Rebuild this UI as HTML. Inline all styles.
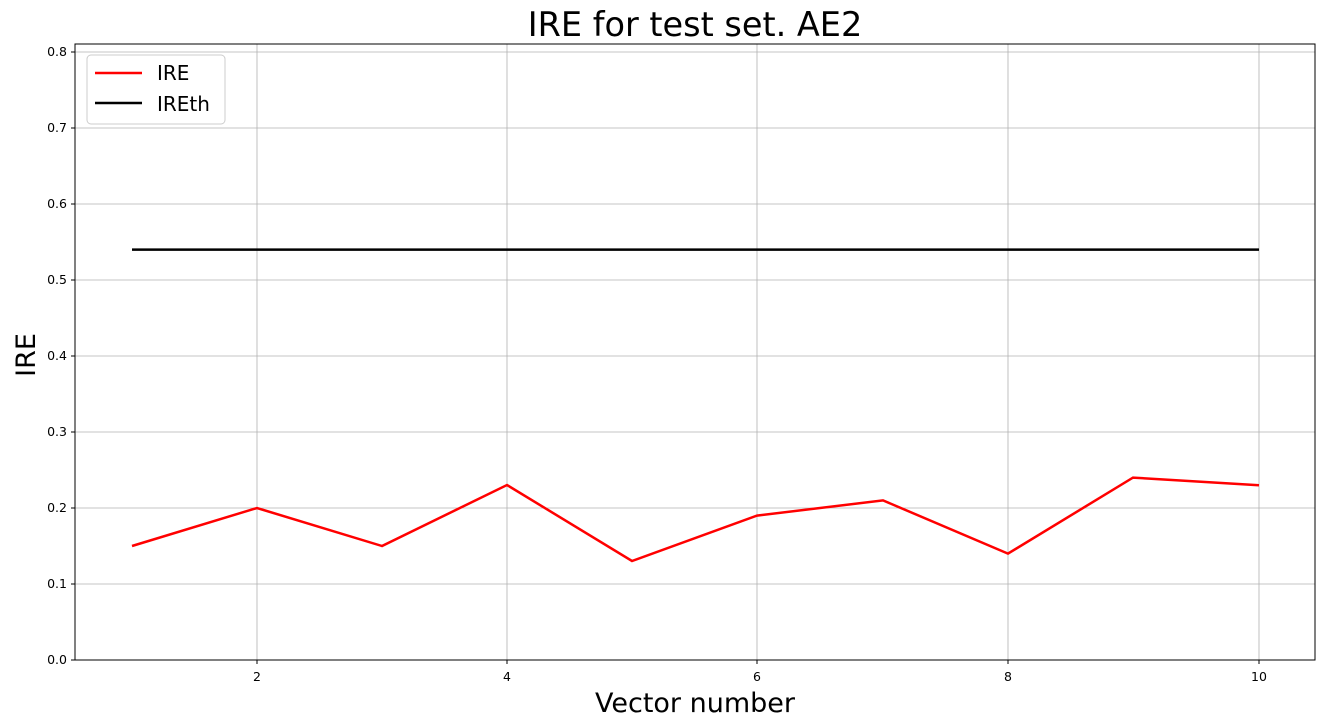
<!DOCTYPE html>
<html><head><meta charset="utf-8"><style>body{margin:0;background:#fff}svg{display:block}</style></head><body>
<svg width="1325" height="727" xmlns="http://www.w3.org/2000/svg" font-family="'DejaVu Sans','Liberation Sans',sans-serif">
<rect width="1325" height="727" fill="#fff"/>
<g stroke="#b0b0b0" stroke-width="0.8">
<line x1="257" y1="44" x2="257" y2="660"/><line x1="507" y1="44" x2="507" y2="660"/><line x1="757" y1="44" x2="757" y2="660"/><line x1="1008" y1="44" x2="1008" y2="660"/><line x1="1259" y1="44" x2="1259" y2="660"/>
<line x1="75" y1="584" x2="1315" y2="584"/><line x1="75" y1="508" x2="1315" y2="508"/><line x1="75" y1="432" x2="1315" y2="432"/><line x1="75" y1="356" x2="1315" y2="356"/><line x1="75" y1="280" x2="1315" y2="280"/><line x1="75" y1="204" x2="1315" y2="204"/><line x1="75" y1="128" x2="1315" y2="128"/><line x1="75" y1="52" x2="1315" y2="52"/>
</g>
<polyline fill="none" stroke="#ff0000" stroke-width="2.5" points="132,546 257,508 382,546 507,485 632,561 757,515.6 883,500.4 1008,553.6 1133,477.6 1259,485.2"/>
<line x1="132" y1="249.6" x2="1259" y2="249.6" stroke="#000" stroke-width="2.5"/>
<rect x="75" y="44" width="1240" height="616" fill="none" stroke="#000" stroke-width="1"/>
<g stroke="#000"><line x1="257" y1="660" x2="257" y2="664"/><line x1="507" y1="660" x2="507" y2="664"/><line x1="757" y1="660" x2="757" y2="664"/><line x1="1008" y1="660" x2="1008" y2="664"/><line x1="1259" y1="660" x2="1259" y2="664"/>
<line x1="71" y1="660" x2="75" y2="660"/><line x1="71" y1="584" x2="75" y2="584"/><line x1="71" y1="508" x2="75" y2="508"/><line x1="71" y1="432" x2="75" y2="432"/><line x1="71" y1="356" x2="75" y2="356"/><line x1="71" y1="280" x2="75" y2="280"/><line x1="71" y1="204" x2="75" y2="204"/><line x1="71" y1="128" x2="75" y2="128"/><line x1="71" y1="52" x2="75" y2="52"/></g>
<g font-size="12.5" text-anchor="middle"><text x="257" y="681">2</text><text x="507" y="681">4</text><text x="757" y="681">6</text><text x="1008" y="681">8</text><text x="1259" y="681">10</text></g>
<g font-size="12.5" text-anchor="end"><text x="67" y="664">0.0</text><text x="67" y="588">0.1</text><text x="67" y="512">0.2</text><text x="67" y="436">0.3</text><text x="67" y="360">0.4</text><text x="67" y="284">0.5</text><text x="67" y="208">0.6</text><text x="67" y="132">0.7</text><text x="67" y="56">0.8</text></g>
<text x="695" y="36" font-size="33.5" text-anchor="middle">IRE for test set. AE2</text>
<text x="695" y="712" font-size="27" text-anchor="middle">Vector number</text>
<text transform="translate(35,355) rotate(-90)" font-size="27" text-anchor="middle">IRE</text>
<rect x="87" y="55" width="138" height="69" rx="4" fill="#fff" fill-opacity="0.8" stroke="#ccc"/>
<line x1="95" y1="73" x2="142" y2="73" stroke="#ff0000" stroke-width="2.5"/>
<line x1="95" y1="103" x2="142" y2="103" stroke="#000" stroke-width="2.5"/>
<text x="157" y="80" font-size="20">IRE</text><text x="157" y="111" font-size="20">IREth</text>
</svg></body></html>
